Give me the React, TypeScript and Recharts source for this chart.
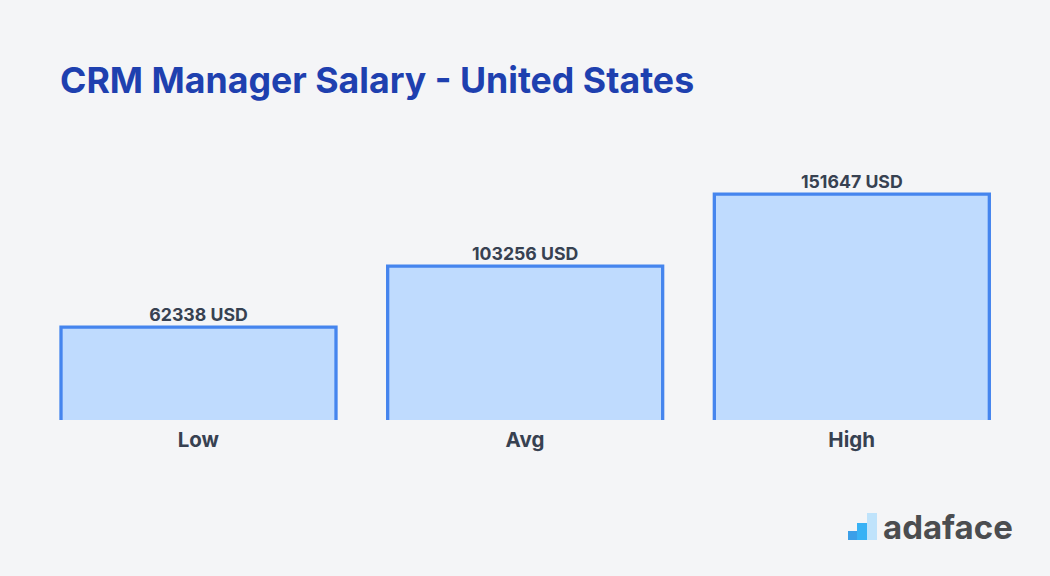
import React from 'react';
import { BarChart, Bar, XAxis, YAxis, LabelList } from 'recharts';

const categories = ['Low', 'Avg', 'High'];
const salaries = [62338, 103256, 151647];
const rows = categories.map((name, i) => ({ name, salary: salaries[i] }));

const FONT = 'Inter, sans-serif';
const TEXT = '#374151';

// outline on the top and sides only, bottom stays open
const OpenBar = (props: any) => {
    const { x, y, width, height } = props;
    return (
        <g>
            <rect x={x} y={y} width={width} height={height} fill="#bfdbfe" />
            <path
                d={`M${x},${y + height} V${y} H${x + width} V${y + height}`}
                fill="none"
                stroke="#4585ee"
                strokeWidth={3.3}
            />
        </g>
    );
};

const Logo = () => (
    <div style={{ position: 'absolute', left: 848, top: 508, width: 170, height: 40 }}>
        <svg width={30} height={33} style={{ position: 'absolute', left: 0, top: 5 }}>
            <rect x={19} y={0} width={10} height={27} fill="#bfe3fb" />
            <rect x={9} y={10} width={10} height={17} fill="#38b2f5" />
            <rect x={0} y={18} width={9} height={9} fill="#3b9fe8" />
        </svg>
        <div style={{ position: 'absolute', left: 35, top: 0, fontFamily: FONT, fontWeight: 700, fontSize: 33, lineHeight: '38px', color: '#4b4d50' }}>
            adaface
        </div>
    </div>
);

export default function App() {
    return (
        <div style={{ position: 'absolute', left: 0, top: 0, width: 1050, height: 576, background: '#f4f5f7', overflow: 'hidden' }}>
            <div style={{ position: 'absolute', left: 60, top: 56, fontFamily: FONT, fontWeight: 700, fontSize: 35.7, lineHeight: '48px', color: '#1e40af', whiteSpace: 'nowrap' }}>
                CRM Manager Salary - United States
            </div>
            <BarChart
                width={1050}
                height={576}
                data={rows}
                margin={{ top: 122, right: 35, bottom: 0, left: 35 }}
                style={{ position: 'absolute', left: 0, top: 0 }}
            >
                <XAxis
                    dataKey="name"
                    axisLine={false}
                    tickLine={false}
                    height={156}
                    tickMargin={6}
                    tick={{ fontFamily: FONT, fontWeight: 700, fontSize: 20.5, fill: TEXT }}
                />
                <YAxis hide domain={[0, 200000]} />
                <Bar dataKey="salary" barSize={275} shape={<OpenBar />} isAnimationActive={false}>
                    <LabelList
                        dataKey="salary"
                        position="top"
                        offset={6}
                        formatter={(v: any) => `${v} USD`}
                        style={{ fontFamily: FONT, fontWeight: 700, fontSize: 17.7, fill: TEXT }}
                    />
                </Bar>
            </BarChart>
            <Logo />
        </div>
    );
}
